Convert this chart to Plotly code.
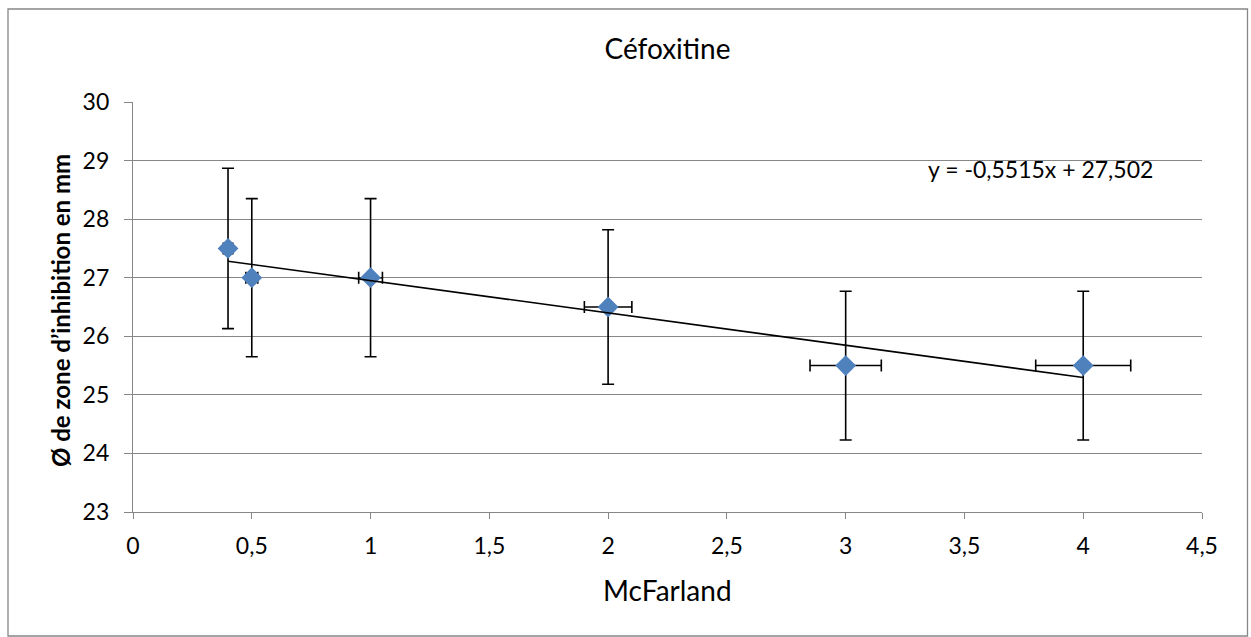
import numpy as np
import plotly.graph_objects as go

# McFarland standard vs. inhibition zone diameter (mm) for cefoxitin
mcfarland = [0.4, 0.5, 1, 2, 3, 4]
diametre = [27.5, 27, 27, 26.5, 25.5, 25.5]
err_diametre = [1.37, 1.35, 1.35, 1.32, 1.27, 1.27]
err_mcfarland = [0.02, 0.025, 0.05, 0.1, 0.15, 0.2]

# Linear trend line coefficients
trend_slope = -0.5515
trend_intercept = 27.502

x_ticks = [0, 0.5, 1, 1.5, 2, 2.5, 3, 3.5, 4, 4.5]
y_ticks = [23, 24, 25, 26, 27, 28, 29, 30]

FONT = "Lato"
GRID = "#878787"

fig = go.Figure()

# data points with error bars (markers drawn above the bars)
fig.add_trace(go.Scatter(
    x=mcfarland, y=diametre, mode="markers",
    marker=dict(symbol="diamond", size=16, color="#4F81BD"),
    error_y=dict(type="data", array=err_diametre, color="black", thickness=1.6, width=6),
    error_x=dict(type="data", array=err_mcfarland, color="black", thickness=1.6, width=6),
    showlegend=False, hoverinfo="x+y",
))

# trend line over the data range
x_line = np.array([min(mcfarland), max(mcfarland)])
y_line = trend_slope * x_line + trend_intercept
fig.add_trace(go.Scatter(
    x=x_line, y=y_line, mode="lines",
    line=dict(color="black", width=1.6),
    showlegend=False, hoverinfo="skip",
))

def fr(v, nd):
    return f"{v:.{nd}f}".replace(".", ",")

eq = f"y = {fr(trend_slope, 4)}x + {fr(trend_intercept, 3)}"

fig.update_layout(
    width=1251, height=637,
    margin=dict(l=133, r=49, t=102, b=125),
    paper_bgcolor="white", plot_bgcolor="white",
    separators=", ",
    font=dict(family=FONT, size=23, color="black"),
    title=dict(text="Céfoxitine", x=(133 + 1202) / 2 / 1251, xanchor="center",
               y=1 - 49 / 637, yanchor="middle",
               font=dict(family=FONT, size=28, color="black")),
    xaxis=dict(
        range=[0, 4.5], tickvals=x_ticks, ticktext=[fr(v, 1).replace(",0", "") for v in x_ticks],
        showgrid=False, zeroline=False,
        showline=True, linecolor=GRID, linewidth=1.3,
        ticks="outside", ticklen=6, tickcolor=GRID, tickwidth=1.3,
        ticklabelstandoff=7,
        tickfont=dict(family=FONT, size=23, color="black"),
    ),
    yaxis=dict(
        range=[23, 30], tickvals=y_ticks,
        showgrid=True, gridcolor=GRID, gridwidth=1.3, zeroline=False,
        showline=True, linecolor=GRID, linewidth=1.3,
        ticks="outside", ticklen=8, tickcolor=GRID, tickwidth=1.3,
        ticklabelstandoff=10,
        tickfont=dict(family=FONT, size=23, color="black"),
    ),
    annotations=[
        dict(text="McFarland", xref="paper", yref="paper",
             x=0.5, y=-(590 - 512) / 410, xanchor="center", yanchor="middle",
             showarrow=False, font=dict(family=FONT, size=28, color="black")),
        dict(text="<b>Ø de zone d’inhibition en mm</b>", xref="paper", yref="paper",
             x=(60 - 133) / 1069, y=(512 - 310) / 410, xanchor="center", yanchor="middle",
             textangle=-90, showarrow=False,
             font=dict(family=FONT, size=24, color="black")),
        dict(text=eq, xref="paper", yref="paper",
             x=(1040 - 133) / 1069, y=(512 - 169) / 410, xanchor="center", yanchor="middle",
             showarrow=False, font=dict(family=FONT, size=23, color="black")),
    ],
    shapes=[
        dict(type="rect", xref="paper", yref="paper",
             x0=(8 - 133) / 1069, x1=(1247.5 - 133) / 1069,
             y0=(512 - 636) / 410, y1=(512 - 9) / 410,
             line=dict(color=GRID, width=1.3), fillcolor="rgba(0,0,0,0)", layer="below"),
    ],
)

fig.write_html("out.html")
